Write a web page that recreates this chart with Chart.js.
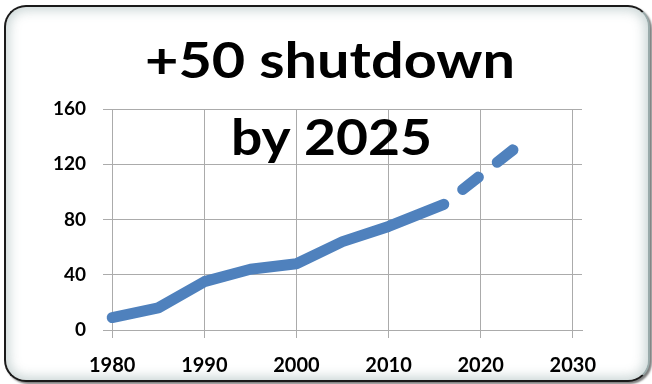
<!DOCTYPE html>
<html>
<head>
<meta charset="utf-8">
<script src="https://cdn.jsdelivr.net/npm/chart.js@4/dist/chart.umd.min.js"></script>
<style>
  html, body { margin: 0; padding: 0; background: #fff; }
  #wrap { position: relative; width: 652px; height: 384px; overflow: hidden; }
  #frame {
    position: absolute; left: 4px; top: 5px; width: 642px; height: 373px;
    border: 2px solid #1a1a1a; border-right-color: #9aa; border-radius: 22px;
    background: #fff;
    box-shadow: inset 0 0 12px 3px rgba(190,205,205,0.85), 2px 2px 2px rgba(0,0,0,0.5);
  }
  canvas { position: absolute; left: 0; top: 0; }
</style>
</head>
<body>
<div id="wrap">
  <div id="frame"></div>
  <canvas id="myChart" width="652" height="384"></canvas>
</div>
<script>
// datos
var years = [1980, 1985, 1990, 1995, 2000, 2005, 2010, 2016, 2024];
var shutdowns = [9, 16, 35, 44, 48, 64, 75, 91, 133];
var dashFrom = 2016;   // a partir de aqui es proyeccion
var xTicks = [1980, 1990, 2000, 2010, 2020, 2030];
var yTicks = [0, 40, 80, 120, 160];
var titleLines = ['+50 shutdown', 'by 2025'];

var puntos = [];
for (var i = 0; i < years.length; i++) {
  puntos.push({x: years[i], y: shutdowns[i]});
}

//// titulo encima del grafico
var tituloPlugin = {
  id: 'titulo',
  afterDraw: function(chart) {
    var ctx = chart.ctx;
    var lineas = [
      {text: titleLines[0], left: 145, right: 515, base: 78},
      {text: titleLines[1], left: 231, right: 432, base: 155}
    ];
    ctx.save();
    ctx.fillStyle = '#000';
    ctx.font = 'bold 49px Lato';
    ctx.textBaseline = 'alphabetic';
    ctx.textAlign = 'left';
    lineas.forEach(function(l) {
      var w = ctx.measureText(l.text).width;
      var sx = (l.right - l.left) / w;
      ctx.save();
      ctx.translate(l.left, l.base);
      ctx.scale(sx, 1);
      ctx.fillText(l.text, 0, 0);
      ctx.restore();
    });
    ctx.restore();
  }
};

var ctx = document.getElementById('myChart').getContext('2d');
var myChart = new Chart(ctx, {
  type: 'line',
  data: {
    datasets: [{
      data: puntos,
      borderColor: '#4F81BD',
      borderWidth: 11,
      borderCapStyle: 'round',
      borderJoinStyle: 'round',
      pointRadius: 0,
      tension: 0,
      fill: false,
      segment: {
        borderDash: function(c) { return c.p0.parsed.x >= dashFrom ? [20, 24] : undefined; },
        borderDashOffset: function(c) { return c.p0.parsed.x >= dashFrom ? 20 : undefined; }
      }
    }]
  },
  options: {
    responsive: false,
    animation: false,
    layout: { padding: { left: 0, right: 70, top: 109, bottom: 0 } },
    plugins: { legend: { display: false }, tooltip: { enabled: false }, title: { display: false } },
    scales: {
      x: {
        type: 'linear',
        min: 1979,
        max: 2031,
        afterBuildTicks: function(s) { s.ticks = xTicks.map(function(v) { return {value: v}; }); },
        afterFit: function(s) { s.height = 54; },
        grid: { color: '#ababab', lineWidth: 1, tickLength: 8, drawTicks: true },
        border: { display: true, color: '#ababab' },
        ticks: {
          font: { family: 'Lato', weight: 'bold', size: 20 },
          color: '#000',
          padding: 16,
          maxRotation: 0,
          callback: function(v) { return String(v); }
        }
      },
      y: {
        min: 0,
        max: 160,
        afterBuildTicks: function(s) { s.ticks = yTicks.map(function(v) { return {value: v}; }); },
        afterFit: function(s) { s.width = 103; },
        grid: { color: '#ababab', lineWidth: 1, tickLength: 0, drawTicks: false },
        border: { display: false },
        ticks: {
          font: { family: 'Lato', weight: 'bold', size: 19 },
          color: '#000',
          padding: 17
        }
      }
    }
  },
  plugins: [tituloPlugin]
});
</script>
</body>
</html>
